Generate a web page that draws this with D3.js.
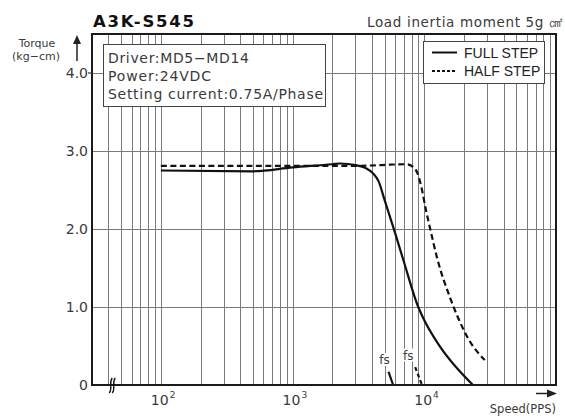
<!DOCTYPE html>
<html>
<head>
<meta charset="utf-8">
<script src="https://cdn.jsdelivr.net/npm/d3@7"></script>
<style>
  body { margin: 0; background: #fff; }
  svg { display: block; }
  .grid line { stroke: #7a7a7a; stroke-width: 1; shape-rendering: crispEdges; }
  .lbl { font-family: "DejaVu Sans", sans-serif; fill: #3a3a3a; }
  .legend text { font-family: "Liberation Sans", Arial, sans-serif; font-size: 14px; fill: #222; }
</style>
</head>
<body>
<div id="chart"></div>
<script>
// full step curve (speed in PPS, torque in kg-cm)
const fullSpeed = [100, 500, 1000, 2000, 2300, 3000, 3600, 4100, 4500, 5000, 6000, 7000, 9000, 10000, 13200, 17400, 23400]
const fullTorque = [2.75, 2.74, 2.79, 2.83, 2.84, 2.82, 2.78, 2.71, 2.61, 2.37, 1.95, 1.58, 1.0, 0.83, 0.49, 0.23, 0]

// half step curve
const halfSpeed = [100, 1000, 3000, 7400, 8150, 8850, 9500, 10300, 11200, 12500, 15600, 18400, 21800, 28800]
const halfTorque = [2.81, 2.81, 2.81, 2.83, 2.80, 2.72, 2.54, 2.24, 1.97, 1.63, 1.13, 0.83, 0.58, 0.32]

// start frequency (fs) marks
const fsFullSpeed = [5350, 5800]
const fsFullTorque = [0.17, 0]
const fsHalfSpeed = [8530, 9600]
const fsHalfTorque = [0.23, 0]

const yTickValues = [0, 1, 2, 3, 4]
const yTickLabels = ['0', '1.0', '2.0', '3.0', '4.0']
const xTickValues = [100, 1000, 10000]
const xTickExponents = ['2', '3', '4']

const infoLines = ['Driver:MD5\u2212MD14', 'Power:24VDC', 'Setting current:0.75A/Phase']
const legendLabels = ['FULL STEP', 'HALF STEP']

const width = 565
const height = 418
const margin = { top: 34, right: 9, bottom: 33, left: 92 }

const xScale = d3.scaleLog()
  .domain([30, 100000])
  .range([margin.left, width - margin.right])

const yScale = d3.scaleLinear()
  .domain([0, 4.5])
  .range([height - margin.bottom, margin.top])

const svg = d3.select('#chart')
  .append('svg')
  .attr('width', width)
  .attr('height', height)

const x0 = xScale.range()[0]
const x1 = xScale.range()[1]
const y0 = yScale.range()[0]
const y1 = yScale.range()[1]

function drawGrid () {
  const grid = svg.append('g').classed('grid', true)

  grid.selectAll('line.v')
    .data(xScale.ticks().filter((d) => d > 30 && d < 100000))
    .enter()
    .append('line')
    .attr('class', 'v')
    .attr('x1', (d) => Math.round(xScale(d)) + 0.5)
    .attr('x2', (d) => Math.round(xScale(d)) + 0.5)
    .attr('y1', y1)
    .attr('y2', y0)

  grid.selectAll('line.h')
    .data(yTickValues.filter((d) => d > 0))
    .enter()
    .append('line')
    .attr('class', 'h')
    .attr('x1', x0)
    .attr('x2', x1)
    .attr('y1', (d) => Math.round(yScale(d)) + 0.5)
    .attr('y2', (d) => Math.round(yScale(d)) + 0.5)
}

function drawFrame () {
  svg.append('rect')
    .attr('x', x0)
    .attr('y', y1)
    .attr('width', x1 - x0)
    .attr('height', y0 - y1)
    .attr('fill', 'none')
    .attr('stroke', '#1a1a1a')
    .attr('stroke-width', 2)

  // little tick left of the top label
  svg.append('line')
    .attr('x1', x0 - 4)
    .attr('x2', x0)
    .attr('y1', yScale(4))
    .attr('y2', yScale(4))
    .attr('stroke', '#333')
    .attr('stroke-width', 1.2)

  // axis break
  const brk = svg.append('g')
  ;[0, 3].forEach((o) => {
    const bx = xScale(42) + o
    brk.append('path')
      .attr('d', `M${bx - 2},${y0 + 8} C${bx + 2},${y0 + 3} ${bx - 3},${y0 - 2} ${bx + 1},${y0 - 7}`)
      .attr('fill', 'none')
      .attr('stroke', '#111')
      .attr('stroke-width', 1.3)
  })
}

function drawAxes () {
  svg.append('g')
    .selectAll('text')
    .data(yTickValues)
    .enter()
    .append('text')
    .attr('class', 'lbl')
    .attr('x', x0 - 4)
    .attr('y', (d) => yScale(d))
    .attr('dy', '0.36em')
    .attr('text-anchor', 'end')
    .style('font-size', '14px')
    .text((d, i) => yTickLabels[i])

  const xl = svg.append('g')
    .selectAll('text')
    .data(xTickValues)
    .enter()
    .append('text')
    .attr('class', 'lbl')
    .attr('x', (d) => xScale(d) - 10)
    .attr('y', y0 + 20)
    .style('font-size', '14px')

  xl.append('tspan').text('10')
  xl.append('tspan')
    .attr('dy', -7)
    .attr('dx', 1)
    .style('font-size', '9px')
    .text((d, i) => xTickExponents[i])

  // axis titles and arrows
  svg.append('text').attr('class', 'lbl')
    .attr('x', 37).attr('y', 46.5)
    .attr('text-anchor', 'middle')
    .style('font-size', '11px')
    .text('Torque')
  svg.append('text').attr('class', 'lbl')
    .attr('x', 36).attr('y', 60)
    .attr('text-anchor', 'middle')
    .style('font-size', '11px')
    .text('(kg\u2212cm)')

  svg.append('text').attr('class', 'lbl')
    .attr('x', x1).attr('y', 413)
    .attr('text-anchor', 'end')
    .style('font-size', '11.5px')
    .text('Speed(PPS)')

  svg.append('path')
    .attr('d', 'M77,61 L77,40')
    .attr('stroke', '#222').attr('stroke-width', 1.5)
  svg.append('path')
    .attr('d', 'M73,44 L77,35 L81,44 Z')
    .attr('fill', '#222')

  svg.append('path')
    .attr('d', `M${x1 - 20},393.5 L${x1 - 5},393.5`)
    .attr('stroke', '#222').attr('stroke-width', 1.5)
  svg.append('path')
    .attr('d', `M${x1 - 9},389.5 L${x1 + 1},393.5 L${x1 - 9},397.5 Z`)
    .attr('fill', '#222')
}

function drawTitles () {
  svg.append('text')
    .attr('x', 93)
    .attr('y', 26.5)
    .attr('textLength', 101)
    .attr('lengthAdjust', 'spacing')
    .style('font-family', '"DejaVu Sans", sans-serif')
    .style('font-weight', 'bold')
    .style('font-size', '16.5px')
    .attr('fill', '#111')
    .text('A3K-S545')

  svg.append('text')
    .attr('class', 'lbl')
    .attr('x', 367)
    .attr('y', 26.5)
    .attr('textLength', 196)
    .attr('lengthAdjust', 'spacing')
    .style('font-size', '13.5px')
    .text('Load inertia moment 5g \u33A0')
}

function drawInfoBox () {
  const g = svg.append('g')
  g.append('rect')
    .attr('x', 103.5).attr('y', 44.5)
    .attr('width', 222).attr('height', 62)
    .attr('fill', '#fff')
    .attr('stroke', '#444')
    .attr('stroke-width', 1)

  const lens = [141, 103, 215]
  g.selectAll('text')
    .data(infoLines)
    .enter()
    .append('text')
    .attr('class', 'lbl')
    .attr('x', 108)
    .attr('y', (d, i) => 62.5 + i * 18)
    .attr('textLength', (d, i) => lens[i])
    .attr('lengthAdjust', 'spacing')
    .style('font-size', '14px')
    .text((d) => d)
}

function drawLegend () {
  const g = svg.append('g').classed('legend', true)
  g.append('rect')
    .attr('x', 423.5).attr('y', 41.5)
    .attr('width', 121).attr('height', 42)
    .attr('fill', '#fff')
    .attr('stroke', '#444')
    .attr('stroke-width', 1)

  const row = g.selectAll('g.row')
    .data(legendLabels)
    .enter()
    .append('g')
    .attr('class', 'row')
    .attr('transform', (d, i) => `translate(0,${i * 18.5})`)

  row.append('line')
    .attr('x1', 432).attr('x2', 457)
    .attr('y1', 52.5).attr('y2', 52.5)
    .attr('stroke', '#111')
    .attr('stroke-width', 2)
    .attr('stroke-dasharray', (d, i) => i ? '3,2' : null)

  row.append('text')
    .attr('x', 464)
    .attr('y', 57.5)
    .text((d) => d)
}

function drawLines () {
  const line = d3.line()
    .x((d) => xScale(d[0]))
    .y((d) => yScale(d[1]))
    .curve(d3.curveMonotoneX)

  const series = [
    { speed: fullSpeed, torque: fullTorque, dash: null },
    { speed: halfSpeed, torque: halfTorque, dash: '6,3.5' },
    { speed: fsFullSpeed, torque: fsFullTorque, dash: null },
    { speed: fsHalfSpeed, torque: fsHalfTorque, dash: '4,3' }
  ]

  svg.append('g')
    .selectAll('path')
    .data(series)
    .enter()
    .append('path')
    .attr('d', (d) => line(d.speed.map((s, i) => [s, d.torque[i]])))
    .attr('fill', 'none')
    .attr('stroke', '#111')
    .attr('stroke-width', 2.2)
    .attr('stroke-dasharray', (d) => d.dash)

  // fs labels
  const fs = [
    { x: xScale(fsFullSpeed[0]) - 4, y: 364 },
    { x: xScale(fsHalfSpeed[0]) - 7, y: 359.5 }
  ]
  const lab = svg.append('g').selectAll('g').data(fs).enter().append('g')
  lab.append('rect')
    .attr('x', (d) => d.x - 6.5).attr('y', (d) => d.y - 11)
    .attr('width', 13).attr('height', 13)
    .attr('fill', '#fff')
  lab.append('text')
    .attr('class', 'lbl')
    .attr('x', (d) => d.x)
    .attr('y', (d) => d.y)
    .attr('text-anchor', 'middle')
    .style('font-size', '12px')
    .text('fs')
}

drawGrid()
drawInfoBox()
drawLegend()
drawLines()
drawFrame()
drawAxes()
drawTitles()
</script>
</body>
</html>
